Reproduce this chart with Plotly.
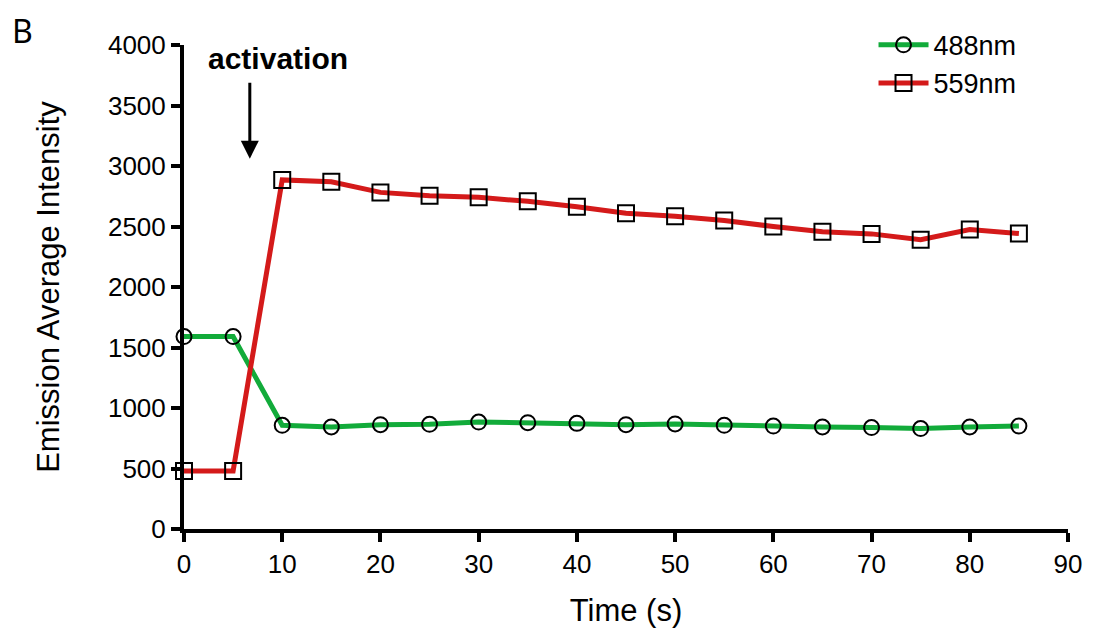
import plotly.graph_objects as go

time_s = [0, 5, 10, 15, 20, 25, 30, 35, 40, 45, 50, 55, 60, 65, 70, 75, 80, 85]
em_488 = [1590, 1590, 857, 843, 862, 865, 884, 879, 873, 862, 868, 857, 851, 843, 838, 830, 843, 851]
em_559 = [480, 480, 2885, 2869, 2782, 2754, 2741, 2708, 2664, 2609, 2585, 2549, 2500, 2456, 2439, 2390, 2475, 2442]
x_ticks = [0, 10, 20, 30, 40, 50, 60, 70, 80, 90]
y_ticks = [0, 500, 1000, 1500, 2000, 2500, 3000, 3500, 4000]

fig = go.Figure()
fig.add_trace(go.Scatter(
    x=time_s, y=em_488, name="488nm", mode="lines+markers",
    line=dict(color="#12ab3a", width=5),
    marker=dict(symbol="circle-open", size=15, color="black", line=dict(width=2, color="black")),
    cliponaxis=False,
))
fig.add_trace(go.Scatter(
    x=time_s, y=em_559, name="559nm", mode="lines+markers",
    line=dict(color="#d41a1a", width=5),
    marker=dict(symbol="square-open", size=16, color="black", line=dict(width=2, color="black")),
    cliponaxis=False,
))

axis_font = dict(family="Liberation Sans, Arial", size=26, color="black")
title_font = dict(family="Liberation Sans, Arial", size=31, color="black")
fig.update_xaxes(
    range=[0, 90], tickvals=x_ticks, ticks="outside", ticklen=9, tickwidth=4,
    tickcolor="black", showline=True, linewidth=4, linecolor="black",
    showgrid=False, zeroline=False, tickfont=axis_font,
    title=dict(text="Time (s)", font=title_font, standoff=22),
)
fig.update_yaxes(
    range=[0, 4000], tickvals=y_ticks, ticks="outside", ticklen=9, tickwidth=4,
    tickcolor="black", showline=True, linewidth=4, linecolor="black",
    showgrid=False, zeroline=False, tickfont=axis_font,
    title=dict(text="Emission Average Intensity", font=title_font, standoff=40),
)

fig.add_annotation(x=6.7, y=3060, ax=6.7, ay=3700, xref="x", yref="y", axref="x", ayref="y",
                   text="", showarrow=True, arrowhead=2, arrowsize=1.2, arrowwidth=3, arrowcolor="black")
fig.add_annotation(x=9.6, y=3890, xref="x", yref="y", text="<b>activation</b>", showarrow=False,
                   font=dict(family="Liberation Sans, Arial", size=30, color="black"))
fig.add_annotation(x=-0.197, y=1.03, xref="paper", yref="paper", text="B", showarrow=False,
                   xanchor="left", yanchor="middle",
                   font=dict(family="Noto Sans", size=32, color="black"))

fig.update_layout(
    width=1094, height=635,
    margin=dict(l=184, r=20, t=45, b=101),
    plot_bgcolor="white", paper_bgcolor="white",
    legend=dict(x=0.78, y=1.05, xanchor="left", yanchor="top", itemwidth=50,
                font=dict(family="Liberation Sans, Arial", size=27, color="black"),
                bgcolor="rgba(0,0,0,0)", tracegroupgap=0),
)

fig.write_html("out.html", config={"displayModeBar": False},
               post_script="document.body.style.margin='0';")
